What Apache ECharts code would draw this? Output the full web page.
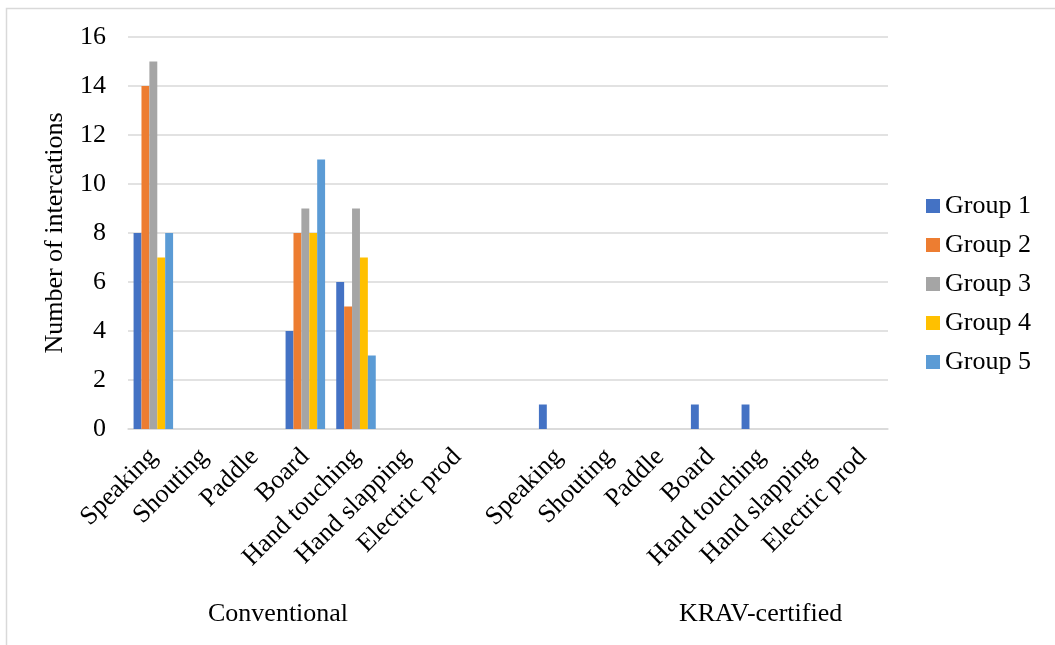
<!DOCTYPE html>
<html>
<head>
<meta charset="utf-8">
<title>Number of intercations by group</title>
<script src="https://cdn.jsdelivr.net/npm/echarts@6/dist/echarts.min.js"></script>
<style>
  html, body { margin: 0; padding: 0; background: #ffffff; }
  #chart { width: 1055px; height: 645px; }
</style>
</head>
<body>
<div id="chart"></div>
<script>
// Interaction types, repeated for each program; the empty slot separates the two programs
const categories = [
  'Speaking', 'Shouting', 'Paddle', 'Board', 'Hand touching', 'Hand slapping', 'Electric prod',
  '',
  'Speaking', 'Shouting', 'Paddle', 'Board', 'Hand touching', 'Hand slapping', 'Electric prod'
];
const programLabels = ['Conventional', 'KRAV-certified'];
const seriesNames = ['Group 1', 'Group 2', 'Group 3', 'Group 4', 'Group 5'];

// Counts per group (Conventional ×7, gap, KRAV-certified ×7)
const group1 = [8, 0, 0, 4, 6, 0, 0, 0, 1, 0, 0, 1, 1, 0, 0];
const group2 = [14, 0, 0, 8, 5, 0, 0, 0, 0, 0, 0, 0, 0, 0, 0];
const group3 = [15, 0, 0, 9, 9, 0, 0, 0, 0, 0, 0, 0, 0, 0, 0];
const group4 = [7, 0, 0, 8, 7, 0, 0, 0, 0, 0, 0, 0, 0, 0, 0];
const group5 = [8, 0, 0, 11, 3, 0, 0, 0, 0, 0, 0, 0, 0, 0, 0];

const yTicks = { min: 0, max: 16, interval: 2 };
const palette = ['#4472C4', '#ED7D31', '#A5A5A5', '#FFC000', '#5B9BD5'];
const font = '"Liberation Serif", "Times New Roman", serif';
const fontSize = 26;

const chart = echarts.init(document.getElementById('chart'), null, { renderer: 'canvas' });

const groups = [group1, group2, group3, group4, group5];

chart.setOption({
  animation: false,
  backgroundColor: '#ffffff',
  color: palette,
  textStyle: { fontFamily: font, color: '#000000' },
  grid: { left: 128, right: 167, top: 37, bottom: 216, containLabel: false },
  legend: {
    orient: 'vertical',
    left: 921,
    top: 188,
    itemWidth: 14,
    itemHeight: 14,
    itemGap: 13,
    icon: 'rect',
    data: seriesNames,
    textStyle: { fontFamily: font, fontSize: fontSize, color: '#000000', padding: [0, 0, 0, 0] }
  },
  xAxis: {
    type: 'category',
    data: categories,
    axisLine: { show: true, lineStyle: { color: '#D9D9D9', width: 1.5 } },
    axisTick: { show: false },
    axisLabel: {
      interval: 0,
      rotate: 45,
      margin: 24,
      fontFamily: font,
      fontSize: fontSize,
      color: '#000000'
    },
    splitLine: { show: false }
  },
  yAxis: {
    type: 'value',
    min: yTicks.min,
    max: yTicks.max,
    interval: yTicks.interval,
    name: 'Number of intercations',
    nameLocation: 'middle',
    nameGap: 60,
    nameRotate: 90,
    nameTextStyle: { fontFamily: font, fontSize: fontSize, color: '#000000' },
    axisLine: { show: false },
    axisTick: { show: false },
    axisLabel: { fontFamily: font, fontSize: fontSize, color: '#000000', margin: 22 },
    splitLine: { lineStyle: { color: '#D9D9D9', width: 1.5 } }
  },
  series: groups.map((vals, i) => ({
    name: seriesNames[i],
    type: 'bar',
    data: vals,
    barGap: '0%',
    barCategoryGap: '22%',
    itemStyle: { color: palette[i] }
  })),
  graphic: [
    {
      type: 'rect',
      silent: true,
      shape: { x: 6.5, y: 8.5, width: 1070, height: 660 },
      style: { fill: 'none', stroke: '#D9D9D9', lineWidth: 1.5 }
    },
    {
      type: 'text',
      left: 208,
      top: 601,
      style: { text: programLabels[0], font: fontSize + 'px ' + font, fill: '#000000' }
    },
    {
      type: 'text',
      left: 679,
      top: 601,
      style: { text: programLabels[1], font: fontSize + 'px ' + font, fill: '#000000' }
    }
  ]
});
</script>
</body>
</html>
